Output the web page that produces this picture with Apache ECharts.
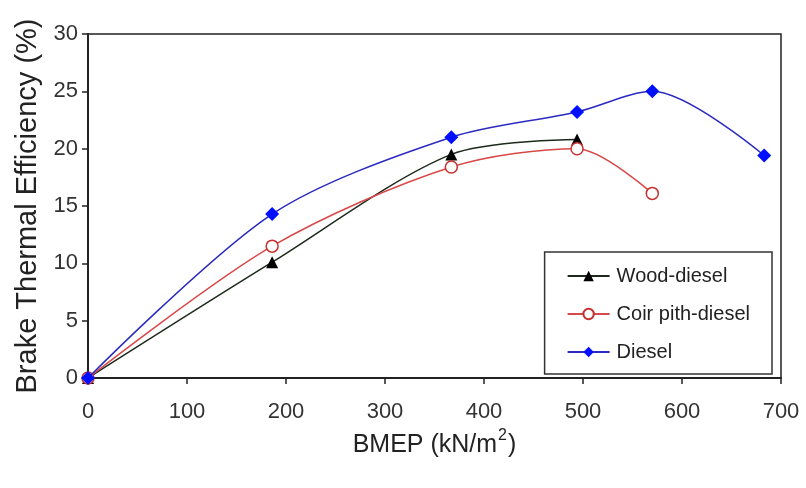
<!DOCTYPE html>
<html><head><meta charset="utf-8">
<script src="https://cdn.jsdelivr.net/npm/echarts@6/dist/echarts.min.js"></script>
<style>html,body{margin:0;padding:0;background:#fff}#c{width:806px;height:488px}</style>
</head><body><div id="c"></div>
<script>
const woodX = [0, 186, 367, 494];
const woodY = [0, 10.1, 19.5, 20.8];
const coirX = [0, 186, 367, 494, 570];
const coirY = [0, 11.5, 18.4, 20.0, 16.1];
const dieselX = [0, 186, 367, 494, 570, 683];
const dieselY = [0, 14.3, 21.0, 23.2, 25.0, 19.4];
const seriesNames = ['Wood-diesel', 'Coir pith-diesel', 'Diesel'];

const pair = (xs, ys) => xs.map((x, i) => [x, ys[i]]);
const chart = echarts.init(document.getElementById('c'));
const font = 'Liberation Sans, Arial, sans-serif';
chart.setOption({
  animation: false,
  grid: { left: 88, right: 25, top: 34, bottom: 110, show: true, borderColor: '#222', borderWidth: 1.5 },
  xAxis: {
    type: 'value', min: 0, max: 700, interval: 100,
    name: '{b|BMEP (kN/m}{s|2}{b|)}', nameLocation: 'middle', nameGap: 50,
    nameTextStyle: { fontSize: 25, color: '#222', fontFamily: font,
      rich: {
        b: { fontSize: 25, color: '#222', fontFamily: font, lineHeight: 30, verticalAlign: 'bottom' },
        s: { fontSize: 16, color: '#222', fontFamily: font, lineHeight: 30, verticalAlign: 'top', padding: [0, 1, 0, 1] }
      } },
    axisLine: { lineStyle: { color: '#222', width: 2 } },
    axisTick: { show: true, length: 6, lineStyle: { color: '#222', width: 1.5 } },
    axisLabel: { fontSize: 22, color: '#333', fontFamily: font, margin: 23 },
    splitLine: { show: false }
  },
  yAxis: {
    type: 'value', min: 0, max: 30, interval: 5,
    name: 'Brake Thermal Efficiency (%)', nameLocation: 'middle', nameGap: 46,
    nameTextStyle: { fontSize: 29, color: '#222', fontFamily: font },
    axisLine: { show: true, lineStyle: { color: '#222', width: 2 } },
    axisTick: { show: true, length: 6, lineStyle: { color: '#222', width: 1.5 } },
    axisLabel: { fontSize: 22, color: '#333', fontFamily: font, margin: 10 },
    splitLine: { show: false }
  },
  legend: {
    orient: 'vertical', right: 34, bottom: 114,
    data: seriesNames,
    borderColor: '#333', borderWidth: 1.5, borderRadius: 0,
    padding: [14, 22, 12, 22],
    itemGap: 18, itemWidth: 42, itemHeight: 13,
    textStyle: { fontSize: 20, color: '#222', fontFamily: font, padding: [0, 0, 0, 2] }
  },
  series: [
    { name: seriesNames[0], type: 'line', smooth: 0.3, data: pair(woodX, woodY),
      symbol: 'triangle', symbolSize: 12,
      lineStyle: { color: '#1c2a1c', width: 1.5 }, itemStyle: { color: '#000' }, z: 3 },
    { name: seriesNames[1], type: 'line', smooth: 0.3, data: pair(coirX, coirY),
      symbol: 'circle', symbolSize: 12,
      lineStyle: { color: '#d84848', width: 1.5 }, itemStyle: { color: '#fff', borderColor: '#c83030', borderWidth: 1.5 }, z: 4 },
    { name: seriesNames[2], type: 'line', smooth: 0.3, data: pair(dieselX, dieselY),
      symbol: 'diamond', symbolSize: 14,
      lineStyle: { color: '#2a2ac0', width: 1.5 }, itemStyle: { color: '#0010ff' }, z: 5 }
  ]
});
</script></body></html>
